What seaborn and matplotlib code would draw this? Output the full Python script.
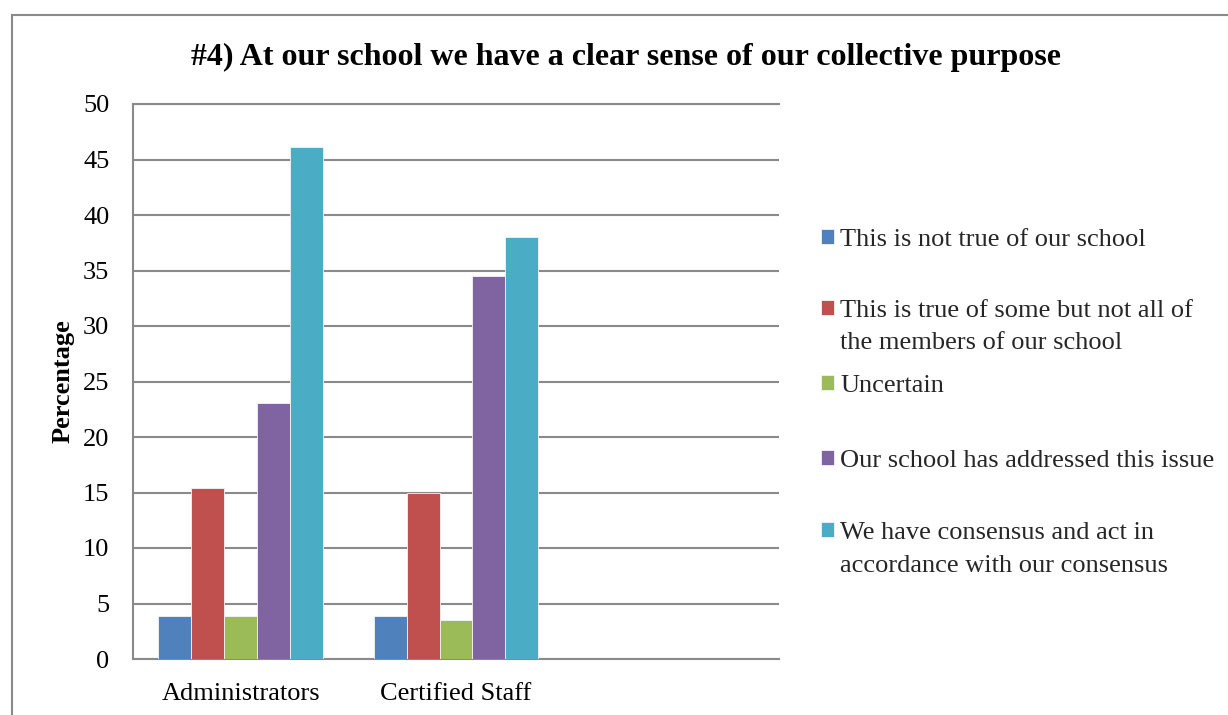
import matplotlib
matplotlib.use("Agg")
import matplotlib.pyplot as plt
from matplotlib.patches import Rectangle
import seaborn as sns
import pandas as pd

categories = ["Administrators", "Certified Staff"]
responses = [
    "This is not true of our school",
    "This is true of some but not all of\nthe members of our school",
    "Uncertain",
    "Our school has addressed this issue",
    "We have consensus and act in\naccordance with our consensus",
]
admin_values = [3.85, 15.38, 3.85, 23.08, 46.15]
staff_values = [3.9, 15.0, 3.5, 34.5, 38.0]
colors = ["#4F81BD", "#C0504D", "#9BBB59", "#8064A2", "#4BACC6"]
y_ticks = [0, 5, 10, 15, 20, 25, 30, 35, 40, 45, 50]
title = "#4) At our school we have a clear sense of our collective purpose"

rows = []
for cat, vals in zip(categories, [admin_values, staff_values]):
    for r, v in zip(responses, vals):
        rows.append({"Group": cat, "Response": r, "Percentage": v})
df = pd.DataFrame(rows)

sns.set_theme(style="white")
plt.rcParams["font.family"] = ["Liberation Serif", "DejaVu Serif"]

W, H = 1228, 715
fig = plt.figure(figsize=(W / 100, H / 100), dpi=100)
ax = fig.add_axes([133 / W, 1 - 659 / H, (779 - 133) / W, (659 - 104) / H])

sns.barplot(data=df, x="Group", y="Percentage", hue="Response", order=categories,
            hue_order=responses, palette=colors, saturation=1, width=0.766, gap=0,
            edgecolor="#f4f4f4", linewidth=0.6, ax=ax, legend=True, zorder=3)

ax.set_xlim(-0.5, 2.5)
ax.set_ylim(0, 50)
ax.set_yticks(y_ticks)
ax.set_yticklabels([str(t) for t in y_ticks])
ax.yaxis.grid(True, color="#8a8a8a", linewidth=1.5, zorder=0)
ax.set_axisbelow(True)
ax.spines["right"].set_visible(False)
for s in ["left", "bottom", "top"]:
    ax.spines[s].set_color("#8a8a8a")
    ax.spines[s].set_linewidth(1.5)
ax.tick_params(axis="y", length=0, pad=17, labelsize=19, labelcolor="black")
ax.tick_params(axis="x", length=0, pad=17, labelsize=19, labelcolor="black")
ax.set_xlabel("")
ax.set_ylabel("Percentage", fontsize=19, fontweight="bold", color="black")
ax.yaxis.set_label_coords((75 - 133) / (779 - 133), 0.5)

handles, labels = ax.get_legend_handles_labels()
ax.get_legend().remove()

# Legend: one line per entry; continuation lines get an invisible handle
line_y = [[240], [311, 343], [386], [461], [533, 566]]
for h, l, ys in zip(handles, labels, line_y):
    for i, (txt, yy) in enumerate(zip(l.split("\n"), ys)):
        hh = h if i == 0 else Rectangle((0, 0), 1, 1, fill=False, edgecolor="none")
        fig.legend([hh], [txt], loc="center left",
                   bbox_to_anchor=(821 / W, 1 - yy / H),
                   frameon=False, fontsize=19, handlelength=0.48,
                   handleheight=0.48, handletextpad=0.25,
                   borderpad=0, borderaxespad=0)

fig.text(626 / W, 1 - 57 / H, title, ha="center", va="center",
         fontsize=23, fontweight="bold", color="black")

fig.add_artist(Rectangle((12 / W, -0.1), 1.2, 1 - 14.7 / H + 0.1,
                         transform=fig.transFigure, fill=False,
                         edgecolor="#8a8a8a", linewidth=1.5))

fig.savefig("out.png", dpi=100, facecolor="white")
